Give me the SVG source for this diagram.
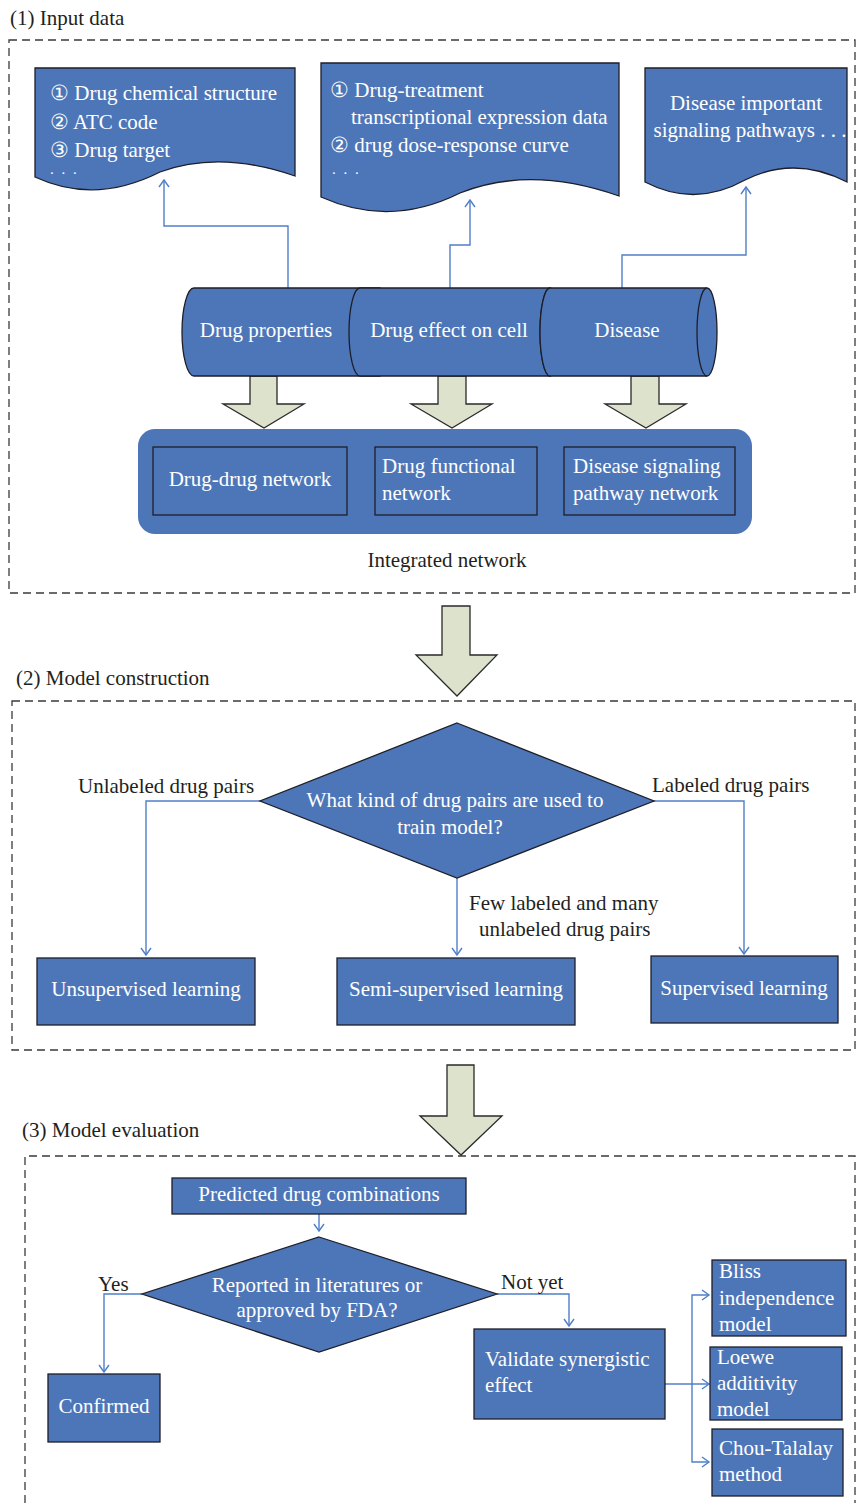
<svg xmlns="http://www.w3.org/2000/svg" width="856" height="1503" viewBox="0 0 856 1503">
<defs>
<style>
text{font-family:"Liberation Serif","DejaVu Serif",serif;font-size:21px;fill:#231f20}
.w{fill:#ffffff}
.c{text-anchor:middle}
.dots{font-size:15px;letter-spacing:2px}
.node{fill:#4d76b8;stroke:#1e1e28;stroke-width:1.3}
.dash{fill:none;stroke:#3a3a3a;stroke-width:1.3;stroke-dasharray:8 5}
.conn{fill:none;stroke:#4f7fc8;stroke-width:1.4}
.big{fill:#dde2cc;stroke:#2a2a2a;stroke-width:1.3}
.face{fill:none;stroke:#1e1e28;stroke-width:1.3}
</style>
<marker id="ah" viewBox="-8 -6 10 12" markerWidth="10" markerHeight="12" refX="0" refY="0" orient="auto" markerUnits="userSpaceOnUse">
<path d="M-7,-5 L0,0 L-7,5" fill="none" stroke="#4f7fc8" stroke-width="1.4"/>
</marker>
</defs>

<g id="sections">
<text x="10" y="25">(1) Input data</text>
<rect class="dash" x="9" y="40" width="846" height="553"/>
<text x="16" y="685">(2) Model construction</text>
<rect class="dash" x="12" y="701" width="843" height="349"/>
<text x="22" y="1137">(3) Model evaluation</text>
<path class="dash" d="M25,1503 V1156 H855 V1503"/>
</g>

<g id="bigarrows">
<path class="big" d="M250,376 H277 V404 H304 L264,428 L223,404 H250 Z"/>
<path class="big" d="M438,376 H466 V404 H492 L452,428 L411,404 H438 Z"/>
<path class="big" d="M631,376 H659 V404 H686 L646,428 L605,404 H631 Z"/>
<path class="big" d="M442,606 H470 V655 H497 L457,696 L416,655 H442 Z"/>
<path class="big" d="M447,1065 H474 V1116 H502 L461,1155 L420,1116 H447 Z"/>
</g>

<g id="connectors">
<path class="conn" d="M288,288 V226 H164 V180" marker-end="url(#ah)"/>
<path class="conn" d="M450,288 V245 H470 V200" marker-end="url(#ah)"/>
<path class="conn" d="M622,288 V255 H746 V187" marker-end="url(#ah)"/>
<path class="conn" d="M260,801 H146 V955" marker-end="url(#ah)"/>
<path class="conn" d="M457,878 V955" marker-end="url(#ah)"/>
<path class="conn" d="M653,801 H744 V954" marker-end="url(#ah)"/>
<path class="conn" d="M319,1214 V1231" marker-end="url(#ah)"/>
<path class="conn" d="M142,1294 H104 V1372" marker-end="url(#ah)"/>
<path class="conn" d="M497,1294 H569 V1326" marker-end="url(#ah)"/>
<path class="conn" d="M665,1384 H709" marker-end="url(#ah)"/>
<path class="conn" d="M692,1384 V1295 H709" marker-end="url(#ah)"/>
<path class="conn" d="M692,1384 V1462 H709" marker-end="url(#ah)"/>
</g>

<g id="doc-drug-properties">
<path class="node" d="M35,68 H295 V176 Q220,150 160,172 Q95,205 35,177 Z"/>
<text class="w" x="50" y="100">① Drug chemical structure</text>
<text class="w" x="50" y="129">② ATC code</text>
<text class="w" x="50" y="157">③ Drug target</text>
<text class="w dots" x="50" y="174">. . .</text>
</g>
<g id="doc-drug-effect">
<path class="node" d="M321,63 H619 V196 Q530,165 460,193 Q390,228 321,197 Z"/>
<text class="w" x="330" y="97">① Drug-treatment</text>
<text class="w" x="351" y="124">transcriptional expression data</text>
<text class="w" x="330" y="152">② drug dose-response curve</text>
<text class="w dots" x="332" y="174">. . .</text>
</g>
<g id="doc-disease">
<path class="node" d="M645,68 H847 V182 Q795,155 745,180 Q695,208 645,182 Z"/>
<text class="w c" x="746" y="110">Disease important</text>
<text class="w c" x="750" y="137">signaling pathways . . .</text>
</g>

<g id="cyl-drug-properties">
<path class="node" d="M194,288 H380 V376 H194 A12,44 0 0 1 194,288 Z"/>
<text class="w c" x="266" y="337">Drug properties</text>
</g>
<g id="cyl-drug-effect">
<path class="node" d="M360,288 H550 A10,44 0 0 1 550,376 H360 A11,44 0 0 1 360,288 Z"/>
<path class="face" d="M550,288 A10,44 0 0 0 550,376"/>
<text class="w c" x="449" y="337">Drug effect on cell</text>
</g>
<g id="cyl-disease">
<path class="node" d="M550,288 H707 A10,44 0 0 1 707,376 H550 A10,44 0 0 1 550,288 Z"/>
<path class="face" d="M707,288 A10,44 0 0 0 707,376"/>
<text class="w c" x="627" y="337">Disease</text>
</g>

<g id="integrated-network">
<rect x="138" y="429" width="614" height="105" rx="17" fill="#4d76b8"/>
<text class="c" x="447" y="567">Integrated network</text>
</g>
<g id="drug-drug-network">
<rect class="node" x="153" y="447" width="194" height="68"/>
<text class="w c" x="250" y="486">Drug-drug network</text>
</g>
<g id="drug-functional-network">
<rect class="node" x="375" y="447" width="162" height="68"/>
<text class="w" x="382" y="473">Drug functional</text>
<text class="w" x="382" y="500">network</text>
</g>
<g id="disease-pathway-network">
<rect class="node" x="564" y="447" width="171" height="68"/>
<text class="w" x="573" y="473">Disease signaling</text>
<text class="w" x="573" y="500">pathway network</text>
</g>

<g id="decision-pairs">
<path class="node" d="M457,723 L654,801 L457,878 L260,801 Z"/>
<text class="w c" x="455" y="807">What kind of drug pairs are used to</text>
<text class="w c" x="450" y="834">train model?</text>
</g>
<g id="labels-2">
<text x="78" y="793">Unlabeled drug pairs</text>
<text x="652" y="792">Labeled drug pairs</text>
<text x="469" y="910">Few labeled and many</text>
<text x="479" y="936">unlabeled drug pairs</text>
</g>
<g id="unsupervised">
<rect class="node" x="37" y="958" width="218" height="67"/>
<text class="w c" x="146" y="996">Unsupervised learning</text>
</g>
<g id="semi-supervised">
<rect class="node" x="337" y="958" width="238" height="67"/>
<text class="w c" x="456" y="996">Semi-supervised learning</text>
</g>
<g id="supervised">
<rect class="node" x="651" y="956" width="187" height="67"/>
<text class="w c" x="744" y="995">Supervised learning</text>
</g>

<g id="predicted">
<rect class="node" x="172" y="1178" width="294" height="36"/>
<text class="w c" x="319" y="1201">Predicted drug combinations</text>
</g>
<g id="decision-reported">
<path class="node" d="M319,1237 L497,1294 L319,1352 L142,1294 Z"/>
<text class="w c" x="317" y="1292">Reported in literatures or</text>
<text class="w c" x="317" y="1317">approved by FDA?</text>
</g>
<g id="labels-3">
<text x="98" y="1291">Yes</text>
<text x="501" y="1289">Not yet</text>
</g>
<g id="confirmed">
<rect class="node" x="48" y="1374" width="112" height="68"/>
<text class="w c" x="104" y="1413">Confirmed</text>
</g>
<g id="validate">
<rect class="node" x="474" y="1329" width="191" height="90"/>
<text class="w" x="485" y="1366">Validate synergistic</text>
<text class="w" x="485" y="1392">effect</text>
</g>
<g id="bliss">
<rect class="node" x="712" y="1260" width="134" height="76"/>
<text class="w" x="719" y="1278">Bliss</text>
<text class="w" x="719" y="1305">independence</text>
<text class="w" x="719" y="1331">model</text>
</g>
<g id="loewe">
<rect class="node" x="710" y="1347" width="132" height="73"/>
<text class="w" x="717" y="1364">Loewe</text>
<text class="w" x="717" y="1390">additivity</text>
<text class="w" x="717" y="1416">model</text>
</g>
<g id="chou">
<rect class="node" x="712" y="1429" width="131" height="67"/>
<text class="w" x="719" y="1455">Chou-Talalay</text>
<text class="w" x="719" y="1481">method</text>
</g>
</svg>
